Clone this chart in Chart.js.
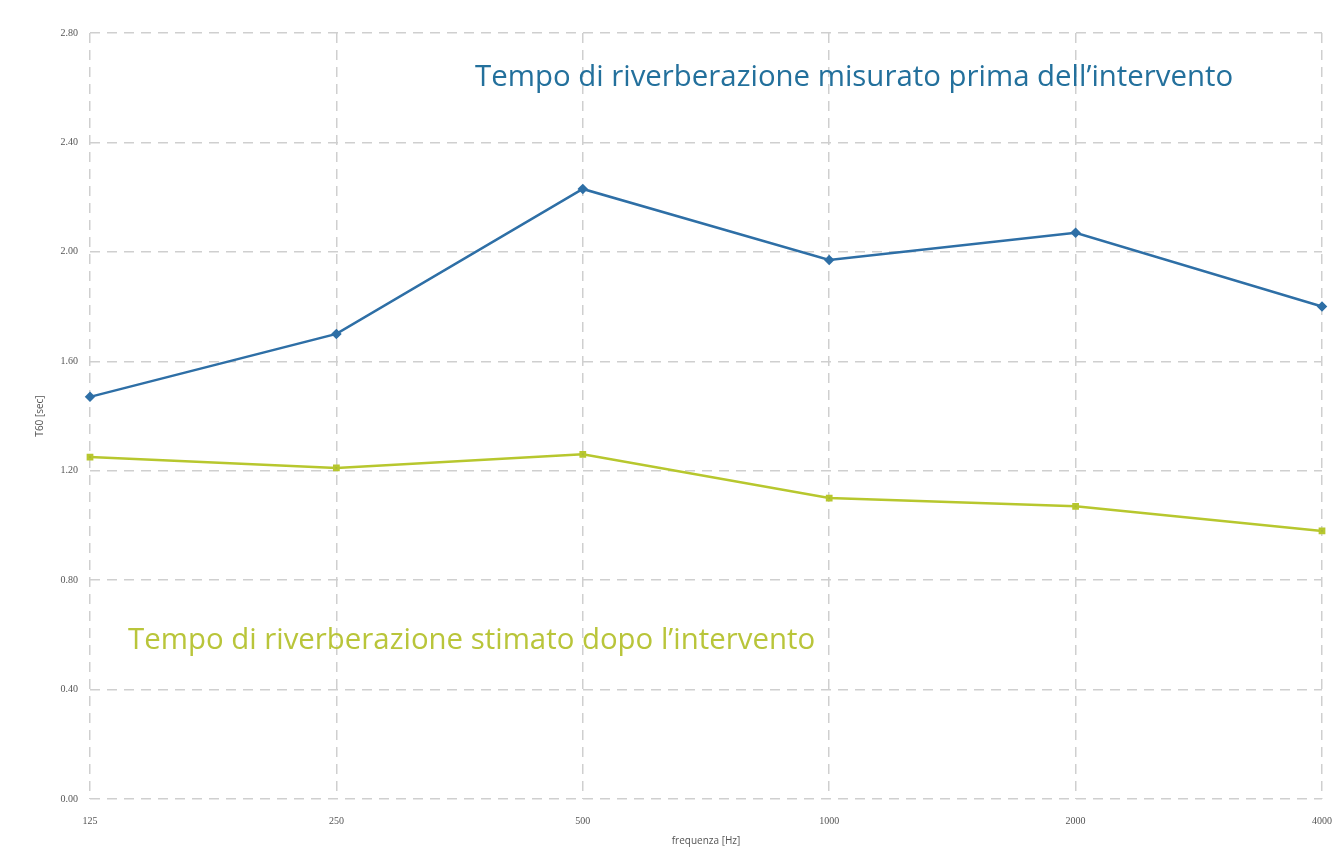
<!DOCTYPE html>
<html>
<head>
<meta charset="utf-8">
<script src="https://cdn.jsdelivr.net/npm/chart.js@4"></script>
<style>
html,body{margin:0;padding:0;background:#fff;}
#wrap{position:relative;width:1341px;height:863px;}
canvas{display:block;}
.note{position:absolute;font-family:"Open Sans",sans-serif;font-size:29.4px;white-space:nowrap;line-height:1;}
#n1{left:475px;top:61px;color:#23709c;}
#n2{left:128px;top:624px;color:#b9c53a;}
</style>
</head>
<body>
<div id="wrap">
<canvas id="c" width="1341" height="863"></canvas>
<div class="note" id="n1">Tempo di riverberazione misurato prima dell’intervento</div>
<div class="note" id="n2">Tempo di riverberazione stimato dopo l’intervento</div>
</div>
<script>
const categories = ["125","250","500","1000","2000","4000"];
const before = [1.47, 1.70, 2.23, 1.97, 2.07, 1.80];
const after = [1.25, 1.21, 1.26, 1.10, 1.07, 0.98];
const yTicks = [0, 0.4, 0.8, 1.2, 1.6, 2.0, 2.4, 2.8];

const grid = {color:'#cfcfcf', lineWidth:1.5, drawTicks:false};
new Chart(document.getElementById('c'), {
  type:'line',
  data:{
    labels:categories,
    datasets:[
      {label:'prima', data:before, borderColor:'#2e6fa6', backgroundColor:'#2e6fa6',
       borderWidth:2.5, pointStyle:'rectRot', pointRadius:3.5, tension:0},
      {label:'dopo', data:after, borderColor:'#b7c72e', backgroundColor:'#a9b83a',
       borderWidth:2.5, pointStyle:'rect', pointRadius:3, tension:0}
    ]
  },
  options:{
    responsive:false, animation:false,
    layout:{padding:{top:33,right:19,left:30,bottom:12}},
    plugins:{legend:{display:false}, tooltip:{enabled:false}},
    scales:{
      x:{
        offset:false,
        grid:grid,
        border:{display:false, dash:[10,7]},
        ticks:{color:'#555', font:{family:'Liberation Serif', size:10}, padding:16, maxRotation:0},
        title:{display:true, text:'frequenza [Hz]', color:'#555', font:{family:'Open Sans', size:10}, padding:{top:4}},
        afterFit(s){ s.height = 52; s.paddingRight = 0; s.paddingLeft = 0; }
      },
      y:{
        min:0, max:2.8,
        afterBuildTicks(s){ s.ticks = yTicks.map(v=>({value:v})); },
        grid:grid,
        border:{display:false, dash:[10,7]},
        ticks:{color:'#555', font:{family:'Liberation Serif', size:10}, padding:12,
               callback:v=>Number(v).toFixed(2)},
        title:{display:true, text:'T60 [sec]', color:'#555', font:{family:'Open Sans', size:10}, padding:{bottom:14}},
        afterFit(s){ s.width = 60; }
      }
    }
  }
});
</script>
</body>
</html>
